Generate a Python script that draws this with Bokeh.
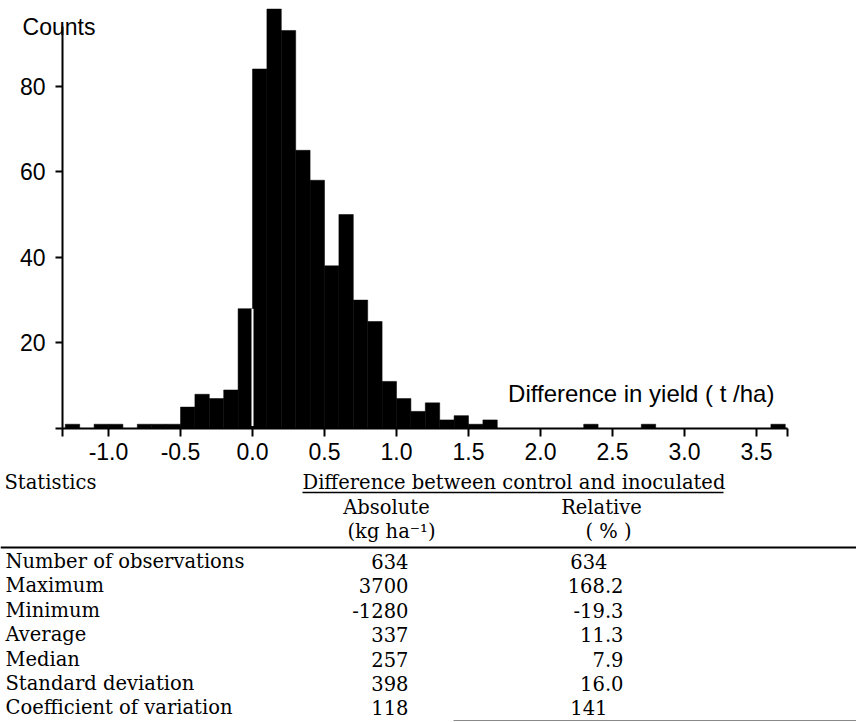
from bokeh.plotting import figure
from bokeh.models import Range1d, FixedTicker, Label, PrintfTickFormatter
from bokeh.embed import file_html
from bokeh.resources import INLINE
from bokeh.core.properties import value

# ---- histogram data (bins of 0.1 t/ha) ----
bin_left = [-1.3, -1.1, -1.0, -0.8, -0.7, -0.6, -0.5, -0.4, -0.3, -0.2, -0.1,
            0.0, 0.1, 0.2, 0.3, 0.4, 0.5, 0.6, 0.7, 0.8, 0.9,
            1.0, 1.1, 1.2, 1.3, 1.4, 1.5, 1.6, 2.3, 2.7, 3.6]
counts = [1, 1, 1, 1, 1, 1, 5, 8, 7, 9, 28,
          84, 98, 93, 65, 58, 38, 50, 30, 25, 11,
          7, 4, 6, 2, 3, 1, 2, 1, 1, 1]
bin_width = 0.1
x_ticks = [-1.0, -0.5, 0.0, 0.5, 1.0, 1.5, 2.0, 2.5, 3.0, 3.5]
y_ticks = [0, 20, 40, 60, 80]
x_axis_span = (-1.319, 3.715)
y_axis_span = (0, 94)

# ---- statistics table ----
stat_names = ["Number of observations", "Maximum", "Minimum", "Average",
              "Median", "Standard deviation", "Coefficient of variation"]
absolute_vals = ["634", "3700", "-1280", "337", "257", "398", "118"]
relative_vals = ["634", "168.2", "-19.3", "11.3", "7.9", "16.0", "141"]

SANS = "Liberation Sans"
SERIF = "DejaVu Serif"
W, H = 856, 722
PX_PER_X = 144.0     # pixels per t/ha
PX_PER_Y = 4.28      # pixels per count
X0_PX, Y0_PX = 252, 428   # pixel position of the data origin
BASE_FIX = 6         # renderer places alphabetic baselines a little low

x_range = Range1d(-X0_PX / PX_PER_X, (W - X0_PX) / PX_PER_X)
y_range = Range1d(-(H - Y0_PX) / PX_PER_Y, Y0_PX / PX_PER_Y)

p = figure(width=W, height=H, x_range=x_range, y_range=y_range,
           output_backend="svg", toolbar_location=None,
           min_border=0, min_border_left=0, min_border_right=0,
           min_border_top=0, min_border_bottom=0)
p.grid.visible = False
p.outline_line_color = None
p.background_fill_color = "white"
p.border_fill_color = "white"
p.extra_x_ranges = {"px": Range1d(0, W)}
p.extra_y_ranges = {"px": Range1d(H, 0)}

right = [l + bin_width for l in bin_left]
p.quad(left=bin_left, right=right, bottom=0, top=counts,
       fill_color="black", line_color="black", line_width=0.5)

# white gap at zero between negative and positive differences
neg_edge = counts[bin_left.index(-0.1)]
p.segment(x0=[0.0], y0=[0.6], x1=[0.0], y1=[neg_edge], line_color="white", line_width=2)

for ax in (p.xaxis[0], p.yaxis[0]):
    ax.axis_line_width = 2
    ax.axis_line_color = "black"
    ax.major_tick_line_width = 2
    ax.major_tick_line_color = "black"
    ax.major_tick_in = 0
    ax.minor_tick_line_color = None
    ax.major_label_text_font = SANS
    ax.major_label_text_font_size = "23px"
    ax.major_label_text_color = "black"

p.xaxis.ticker = FixedTicker(ticks=x_ticks + list(x_axis_span))
p.xaxis.formatter = PrintfTickFormatter(format="%.1f")
p.xaxis.major_label_overrides = {x_axis_span[0]: "", x_axis_span[1]: ""}
p.xaxis.major_tick_out = 8
p.xaxis.major_label_standoff = 6
p.xaxis.bounds = x_axis_span
p.xaxis.fixed_location = 0

p.yaxis.ticker = FixedTicker(ticks=y_ticks)
p.yaxis.major_label_overrides = {0: ""}
p.yaxis.major_tick_out = 7
p.yaxis.major_label_standoff = 10
p.yaxis.bounds = y_axis_span
p.yaxis.fixed_location = x_axis_span[0]

p.add_layout(Label(x=1.775, y=8.2, text="Difference in yield ( t /ha)",
                   text_font=SANS, text_font_size="24px", text_color="black",
                   text_baseline="alphabetic", text_align="left"))
p.add_layout(Label(x=-1.597, y=93.9, text="Counts",
                   text_font=SANS, text_font_size="23px", text_color="black",
                   text_baseline="alphabetic", text_align="left"))

# ---- statistics table (drawn in a pixel-like extra range, y downward) ----
fs = "19.5px"
common = dict(text_font=value(SERIF), text_font_size=fs, text_color="black",
              text_baseline="alphabetic", x_range_name="px", y_range_name="px")
seg = dict(x_range_name="px", y_range_name="px")

head_y, sub1_y, sub2_y, rule_y = 488, 513, 537, 547
p.text(x=[4], y=[head_y - BASE_FIX], text=["Statistics"], text_align="left", **common)
p.text(x=[302], y=[head_y - BASE_FIX], text=["Difference between control and inoculated"],
       text_align="left", **common)
p.segment(x0=[302], y0=[head_y + 4], x1=[723], y1=[head_y + 4],
          line_color="black", line_width=1.5, **seg)
p.text(x=[386, 601], y=[sub1_y - BASE_FIX] * 2, text=["Absolute", "Relative"],
       text_align="center", **common)
p.text(x=[391, 608], y=[sub2_y - BASE_FIX] * 2, text=["(kg ha\u207b\u00b9)", "( % )"],
       text_align="center", **common)
p.segment(x0=[0], y0=[rule_y], x1=[W], y1=[rule_y], line_color="black", line_width=2, **seg)

row_y = [567 + 24.4 * i - BASE_FIX for i in range(len(stat_names))]
p.text(x=[5] * len(stat_names), y=row_y, text=stat_names, text_align="left", **common)
p.text(x=[408] * len(absolute_vals), y=row_y, text=absolute_vals, text_align="right", **common)
rel_x = [623 if "." in v else 607 for v in relative_vals]
p.text(x=rel_x, y=row_y, text=relative_vals, text_align="right", **common)
p.segment(x0=[453], y0=[720], x1=[W], y1=[720], line_color="#888888", line_width=1, **seg)

open("out.html", "w").write(file_html(p, INLINE))
